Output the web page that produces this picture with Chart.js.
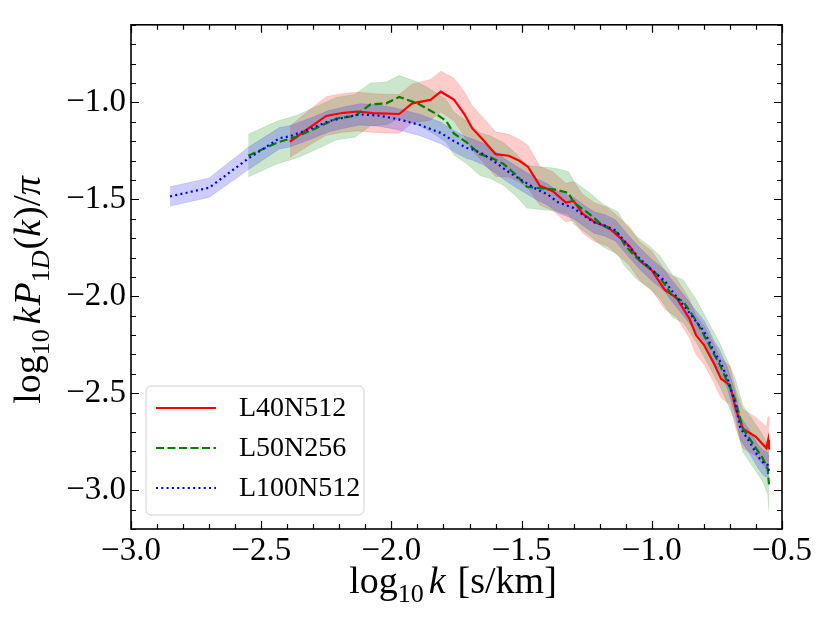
<!DOCTYPE html>
<html>
<head>
<meta charset="utf-8">
<script src="https://cdn.jsdelivr.net/npm/chart.js@4.4.0/dist/chart.umd.min.js"></script>
<style>
html, body { margin: 0; padding: 0; background: #fff; }
#wrap { width: 830px; height: 623px; }
</style>
</head>
<body>
<div id="wrap"><canvas id="chart" width="830" height="623"></canvas></div>
<script>
// L40N512 (red, solid)
const l40K = [-2.39, -2.32, -2.25, -2.19, -2.13, -2.07, -1.97, -1.92, -1.85, -1.81,
              -1.76, -1.72, -1.69, -1.65, -1.60, -1.55, -1.51, -1.475, -1.43, -1.38,
              -1.33, -1.30, -1.265, -1.22, -1.17, -1.12, -1.085, -1.047, -1.00, -0.95,
              -0.905, -0.855, -0.83, -0.80, -0.76, -0.734, -0.70, -0.677, -0.65, -0.60,
              -0.56, -0.553, -0.55];
const l40P = [-1.203, -1.135, -1.07, -1.055, -1.047, -1.055, -1.06, -1.005, -0.987, -0.945,
              -0.985, -1.06, -1.133, -1.19, -1.267, -1.275, -1.30, -1.333, -1.43, -1.458,
              -1.517, -1.508, -1.575, -1.617, -1.642, -1.70, -1.742, -1.817, -1.867, -1.967,
              -2.008, -2.117, -2.20, -2.25, -2.35, -2.425, -2.458, -2.583, -2.683, -2.725,
              -2.783, -2.74, -2.79];
const l40Err = [0.08, 0.09, 0.10, 0.10, 0.10, 0.10, 0.10, 0.10, 0.105, 0.105,
                0.11, 0.115, 0.115, 0.115, 0.115, 0.11, 0.11, 0.11, 0.10, 0.10,
                0.10, 0.10, 0.10, 0.10, 0.10, 0.10, 0.10, 0.10, 0.10, 0.10,
                0.10, 0.10, 0.10, 0.10, 0.10, 0.10, 0.10, 0.10, 0.10, 0.10,
                0.11, 0.12, 0.12];

// L50N256 (green, dashed)
const l50K = [-2.55, -2.44, -2.36, -2.29, -2.21, -2.14, -2.08, -2.02, -1.97, -1.90,
              -1.84, -1.79, -1.76, -1.71, -1.66, -1.62, -1.57, -1.52, -1.48, -1.43,
              -1.37, -1.32, -1.30, -1.24, -1.19, -1.13, -1.105, -1.06, -1.01, -0.97,
              -0.92, -0.88, -0.83, -0.80, -0.74, -0.71, -0.68, -0.65, -0.625, -0.60,
              -0.575, -0.555, -0.55];
const l50P = [-1.275, -1.208, -1.175, -1.133, -1.083, -1.07, -1.01, -1.005, -0.972, -1.005,
              -1.05, -1.095, -1.16, -1.208, -1.267, -1.283, -1.317, -1.375, -1.435, -1.442,
              -1.45, -1.467, -1.517, -1.575, -1.633, -1.675, -1.733, -1.80, -1.85, -1.90,
              -2.00, -2.025, -2.125, -2.20, -2.35, -2.44, -2.533, -2.683, -2.733, -2.783,
              -2.833, -2.89, -2.97];
const l50Err = [0.11, 0.11, 0.11, 0.11, 0.11, 0.11, 0.11, 0.11, 0.11, 0.11,
                0.11, 0.11, 0.11, 0.11, 0.11, 0.11, 0.11, 0.11, 0.11, 0.11,
                0.11, 0.11, 0.11, 0.11, 0.11, 0.11, 0.11, 0.11, 0.11, 0.11,
                0.11, 0.11, 0.11, 0.11, 0.11, 0.11, 0.11, 0.12, 0.12, 0.12,
                0.12, 0.13, 0.14];

// L100N512 (blue, dotted)
const l100K = [-2.85, -2.70, -2.55, -2.43, -2.39, -2.31, -2.24, -2.17, -2.12, -2.05,
               -1.98, -1.89, -1.81, -1.76, -1.71, -1.69, -1.65, -1.60, -1.56, -1.52,
               -1.48, -1.44, -1.40, -1.36, -1.30, -1.26, -1.22, -1.18, -1.14, -1.09,
               -1.05, -1.00, -0.95, -0.93, -0.87, -0.83, -0.80, -0.78, -0.76, -0.74,
               -0.71, -0.68, -0.66, -0.64, -0.625, -0.59, -0.57, -0.555, -0.55];
const l100P = [-1.485, -1.44, -1.29, -1.185, -1.175, -1.135, -1.097, -1.075, -1.062, -1.068,
               -1.085, -1.117, -1.158, -1.20, -1.235, -1.242, -1.265, -1.31, -1.35, -1.385,
               -1.417, -1.45, -1.475, -1.515, -1.545, -1.585, -1.62, -1.635, -1.66, -1.74,
               -1.80, -1.865, -1.92, -1.96, -2.06, -2.13, -2.18, -2.23, -2.29, -2.33,
               -2.42, -2.55, -2.68, -2.72, -2.75, -2.83, -2.86, -2.87, -2.90];
const l100Err = [0.05, 0.05, 0.058, 0.055, 0.055, 0.055, 0.055, 0.055, 0.055, 0.055,
                 0.055, 0.055, 0.055, 0.055, 0.055, 0.055, 0.055, 0.055, 0.055, 0.055,
                 0.055, 0.055, 0.055, 0.055, 0.055, 0.055, 0.055, 0.055, 0.055, 0.055,
                 0.055, 0.055, 0.055, 0.055, 0.055, 0.055, 0.055, 0.055, 0.055, 0.055,
                 0.055, 0.06, 0.06, 0.06, 0.06, 0.06, 0.065, 0.065, 0.07];

const seriesNames = ['L40N512', 'L50N256', 'L100N512'];
const xTicks = [-3.0, -2.5, -2.0, -1.5, -1.0, -0.5];
const yTicks = [-3.0, -2.5, -2.0, -1.5, -1.0];

const SERIF = '"Liberation Serif", "DejaVu Serif", serif';

function pts(k, p, e, sign) {
    return k.map((x, i) => ({ x: x, y: p[i] + sign * (e ? e[i] : 0) }));
}

function fmt(v) {
    return (v < 0 ? '\u2212' : '') + Math.abs(v).toFixed(1);
}

const styles = [
    { line: 'rgb(255,0,0)', fill: 'rgba(255,0,0,0.2)', dash: [] },
    { line: 'rgb(0,128,0)', fill: 'rgba(0,128,0,0.2)', dash: [8, 3.5] },
    { line: 'rgb(0,0,255)', fill: 'rgba(0,0,255,0.2)', dash: [2, 3.3] }
];
const allK = [l40K, l50K, l100K];
const allP = [l40P, l50P, l100P];
const allE = [l40Err, l50Err, l100Err];

const datasets = [];
// bands first (drawn underneath)
for (let i = 0; i < 3; i++) {
    datasets.push({
        label: seriesNames[i] + ' hi',
        data: pts(allK[i], allP[i], allE[i], 1),
        borderColor: styles[i].fill, borderWidth: 0.6,
        pointRadius: 0, fill: false, order: 6 - i
    });
    datasets.push({
        label: seriesNames[i] + ' lo',
        data: pts(allK[i], allP[i], allE[i], -1),
        borderColor: styles[i].fill, borderWidth: 0.6,
        backgroundColor: styles[i].fill,
        pointRadius: 0, fill: '-1', order: 6 - i
    });
}
// lines on top
for (let i = 0; i < 3; i++) {
    datasets.push({
        label: seriesNames[i],
        data: pts(allK[i], allP[i], null, 0),
        borderColor: styles[i].line, borderWidth: 2.2,
        borderDash: styles[i].dash, borderCapStyle: 'butt',
        pointRadius: 0, fill: false, order: 3 - i
    });
}

// draw text pieces one after another (for sub/italic bits)
function drawParts(ctx, parts, cx, baseY) {
    let total = 0;
    parts.forEach(p => { ctx.font = p.font; total += ctx.measureText(p.t).width + (p.gap || 0); });
    let x = cx - total / 2;
    parts.forEach(p => {
        ctx.font = p.font;
        ctx.fillText(p.t, x, baseY + (p.dy || 0));
        x += ctx.measureText(p.t).width + (p.gap || 0);
    });
}

const big = '38px ' + SERIF;
const bigIt = 'italic 38px ' + SERIF;
const sub = '26px ' + SERIF;
const subIt = 'italic 26px ' + SERIF;

const decorPlugin = {
    id: 'decor',
    afterDraw(chart) {
        const ctx = chart.ctx;
        const a = chart.chartArea;
        const xs = chart.scales.x, ys = chart.scales.y;
        ctx.save();
        ctx.strokeStyle = '#000';
        ctx.lineWidth = 1.2;
        // minor + major ticks, inward, on all four sides
        for (let j = -30; j <= -5; j++) {
            const v = j / 10;
            const px = Math.round(xs.getPixelForValue(v)) + 0.5;
            const len = (j % 5 === 0) ? 8 : 5;
            ctx.beginPath();
            ctx.moveTo(px, a.bottom); ctx.lineTo(px, a.bottom - len);
            ctx.moveTo(px, a.top); ctx.lineTo(px, a.top + len);
            ctx.stroke();
        }
        for (let j = -32; j <= -6; j++) {
            const v = j / 10;
            const py = Math.round(ys.getPixelForValue(v)) + 0.5;
            const len = (j % 5 === 0) ? 8 : 5;
            ctx.beginPath();
            ctx.moveTo(a.left, py); ctx.lineTo(a.left + len, py);
            ctx.moveTo(a.right, py); ctx.lineTo(a.right - len, py);
            ctx.stroke();
        }
        // frame
        ctx.lineWidth = 1.6;
        ctx.strokeRect(a.left, a.top, a.right - a.left, a.bottom - a.top);

        // legend
        const lx = 146, ly = 386, lw = 218, lh = 129;
        ctx.beginPath();
        ctx.roundRect(lx, ly, lw, lh, 5);
        ctx.fillStyle = 'rgba(255,255,255,0.8)';
        ctx.fill();
        ctx.strokeStyle = '#d0d0d0';
        ctx.lineWidth = 1;
        ctx.stroke();
        const rows = [408, 448, 488];
        for (let i = 0; i < 3; i++) {
            ctx.strokeStyle = styles[i].line;
            ctx.lineWidth = 2.2;
            ctx.setLineDash(styles[i].dash);
            ctx.beginPath();
            ctx.moveTo(156, rows[i]); ctx.lineTo(216, rows[i]);
            ctx.stroke();
            ctx.setLineDash([]);
            ctx.fillStyle = '#000';
            ctx.font = '28px ' + SERIF;
            ctx.textBaseline = 'middle';
            ctx.textAlign = 'left';
            ctx.fillText(seriesNames[i], 239, rows[i] + 1);
        }

        // axis titles
        ctx.fillStyle = '#000';
        ctx.textBaseline = 'alphabetic';
        ctx.textAlign = 'left';
        drawParts(ctx, [
            { t: 'log', font: big },
            { t: '10', font: sub, dy: 9, gap: 5 },
            { t: 'k', font: bigIt, gap: 12 },
            { t: '[s/km]', font: big }
        ], 453, 593);

        ctx.save();
        ctx.translate(40, 290);
        ctx.rotate(-Math.PI / 2);
        drawParts(ctx, [
            { t: 'log', font: big },
            { t: '10', font: sub, dy: 9, gap: 5 },
            { t: 'k', font: bigIt, gap: 2 },
            { t: 'P', font: bigIt },
            { t: '1', font: sub, dy: 9 },
            { t: 'D', font: subIt, dy: 9, gap: 1 },
            { t: '(', font: big },
            { t: 'k', font: bigIt, gap: 1 },
            { t: ')', font: big },
            { t: '/', font: '40px ' + SERIF },
            { t: '\u03c0', font: bigIt }
        ], 0, 0);
        ctx.restore();
        ctx.restore();
    }
};

new Chart(document.getElementById('chart'), {
    type: 'line',
    data: { datasets: datasets },
    options: {
        responsive: false,
        animation: false,
        devicePixelRatio: 1,
        events: [],
        layout: { padding: { left: 0, top: 10, right: 48, bottom: 0 } },
        plugins: {
            legend: { display: false },
            tooltip: { enabled: false }
        },
        scales: {
            x: {
                type: 'linear',
                min: -3.0, max: -0.5,
                afterBuildTicks: s => { s.ticks = xTicks.map(v => ({ value: v })); },
                afterFit: s => { s.height = 94; },
                grid: { display: false, drawTicks: false },
                border: { display: false },
                ticks: {
                    padding: 3,
                    color: '#000',
                    font: { family: SERIF, size: 33 },
                    maxRotation: 0,
                    callback: v => fmt(v)
                }
            },
            y: {
                type: 'linear',
                min: -3.2, max: -0.6,
                afterBuildTicks: s => { s.ticks = yTicks.map(v => ({ value: v })); },
                afterFit: s => { s.width = 131; },
                grid: { display: false, drawTicks: false },
                border: { display: false },
                ticks: {
                    padding: 5,
                    color: '#000',
                    font: { family: SERIF, size: 33 },
                    callback: v => fmt(v)
                }
            }
        }
    },
    plugins: [decorPlugin]
});
</script>
</body>
</html>
